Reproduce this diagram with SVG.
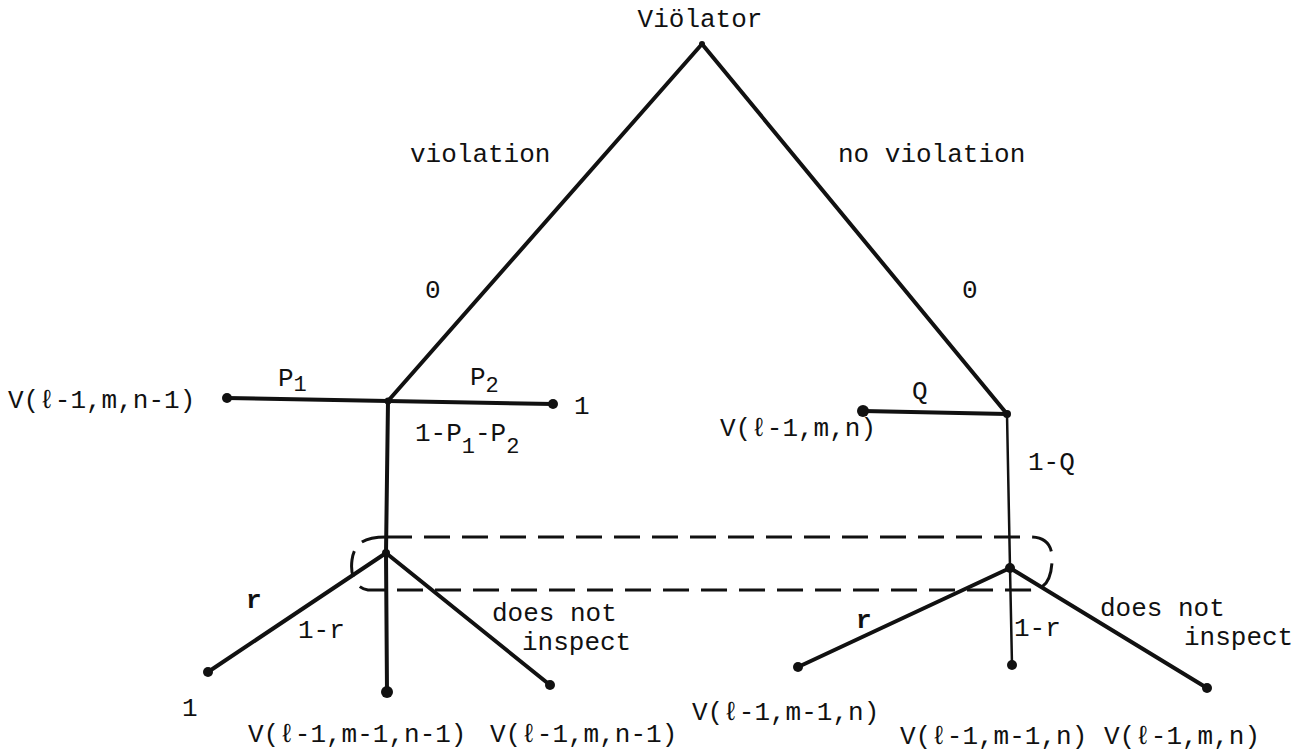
<svg xmlns="http://www.w3.org/2000/svg" width="1294" height="755" viewBox="0 0 1294 755">
<style>
text{font-family:"Liberation Mono","DejaVu Sans Mono",monospace;font-size:26px;fill:#111}
.b{font-weight:bold}
.s{font-size:22px}
.e{stroke:#111;stroke-width:4;fill:none;stroke-linecap:round;stroke-linejoin:round}
.t{stroke-width:2.5}
.d{fill:#111}
.dash{stroke:#111;stroke-width:3;fill:none;stroke-dasharray:26 12}
</style>
<rect width="1294" height="755" fill="#fff"/>
<g id="connectors">
<path class="e" d="M702 44 L388 401"/>
<path class="e" d="M702 44 L1007 414"/>
<path class="e" d="M227 398 L388 401 L553 404"/>
<path class="e" d="M388 401 L386 553 L387 692"/>
<path class="e" d="M386 553 L208 672"/>
<path class="e" d="M386 553 L550 685"/>
<path class="e" d="M863 411 L1007 414"/>
<path class="e t" d="M1007 414 L1010 568 L1012 665"/>
<path class="e" d="M1010 568 L798 667"/>
<path class="e" d="M1010 568 L1207 688"/>
<path class="dash" d="M386 537 L1030 537 C1048 537 1053 548 1052 562 C1051 580 1045 590 1030 590 L368 590 C355 588 350 575 352 560 C354 545 362 537 386 537 Z"/>
</g>
<g id="root">
<circle class="d" cx="702" cy="44" r="3"/>
<text x="700" y="27" text-anchor="middle">Viölator</text>
</g>
<g id="edge-labels">
<text x="410" y="162">violation</text>
<text x="838" y="162">no violation</text>
<text x="425" y="298">0</text>
<text x="962" y="298">0</text>
</g>
<g id="n-violation">
<circle class="d" cx="388" cy="401" r="3.5"/>
<text x="278" y="386">P<tspan class="s" dy="5">1</tspan></text>
<text x="470" y="385">P<tspan class="s" dy="7">2</tspan></text>
<text x="415" y="441">1-P<tspan class="s" dy="12">1</tspan><tspan dy="-12">-P</tspan><tspan class="s" dy="12">2</tspan></text>
</g>
<g id="leaf-v1">
<circle class="d" cx="227" cy="398" r="5"/>
<text x="8" y="408">V(ℓ-1,m,n-1)</text>
</g>
<g id="leaf-1a">
<circle class="d" cx="553" cy="404" r="5"/>
<text x="574" y="414">1</text>
</g>
<g id="n-noviolation">
<circle class="d" cx="1007" cy="414" r="4"/>
<text x="912" y="399">Q</text>
<text x="1028" y="470">1-Q</text>
</g>
<g id="leaf-v2">
<circle class="d" cx="863" cy="411" r="6"/>
<text x="720" y="436">V(ℓ-1,m,n)</text>
</g>
<g id="inspector-left">
<circle class="d" cx="386" cy="553" r="4"/>
<text class="b" x="246" y="608">r</text>
<text x="298" y="638">1-r</text>
<text x="492" y="621">does not</text>
<text x="522" y="650">inspect</text>
</g>
<g id="leaf-1b">
<circle class="d" cx="208" cy="672" r="5"/>
<text x="182" y="716">1</text>
</g>
<g id="leaf-v3">
<circle class="d" cx="387" cy="692" r="6"/>
<text x="248" y="742">V(ℓ-1,m-1,n-1)</text>
</g>
<g id="leaf-v4">
<circle class="d" cx="550" cy="685" r="5"/>
<text x="490" y="742">V(ℓ-1,m,n-1)</text>
</g>
<g id="inspector-right">
<circle class="d" cx="1010" cy="568" r="5"/>
<text class="b" x="856" y="628">r</text>
<text x="1014" y="636">1-r</text>
<text x="1100" y="616">does not</text>
<text x="1184" y="645">inspect</text>
</g>
<g id="leaf-v5">
<circle class="d" cx="798" cy="667" r="5"/>
<text x="692" y="720">V(ℓ-1,m-1,n)</text>
</g>
<g id="leaf-v6">
<circle class="d" cx="1012" cy="665" r="5"/>
<text x="900" y="744">V(ℓ-1,m-1,n)</text>
</g>
<g id="leaf-v7">
<circle class="d" cx="1207" cy="688" r="5"/>
<text x="1104" y="744">V(ℓ-1,m,n)</text>
</g>
</svg>
